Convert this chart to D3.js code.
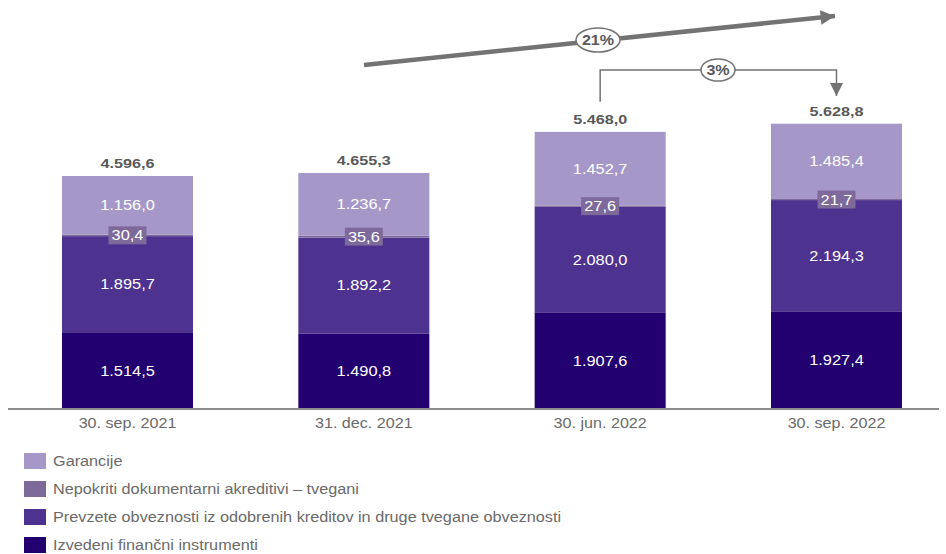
<!DOCTYPE html>
<html><head><meta charset="utf-8">
<script src="https://cdn.jsdelivr.net/npm/d3@7"></script>
<style>body{margin:0;background:#fff}svg{display:block;font-family:"Liberation Sans",Arial,sans-serif}</style>
</head><body><svg id="c" width="946" height="554"></svg>
<script>
const categories = ["30. sep. 2021","31. dec. 2021","30. jun. 2022","30. sep. 2022"];
const izvedeni = [1514.5,1490.8,1907.6,1927.4];
const prevzete = [1895.7,1892.2,2080.0,2194.3];
const nepokriti = [30.4,35.6,27.6,21.7];
const garancije = [1156.0,1236.7,1452.7,1485.4];
const totals = [4596.6,4655.3,5468.0,5628.8];
const seriesColors = ["#23006f","#4d3290","#7d6a9b","#a598c9"];
const legendOrder = [3,2,1,0];
const legendLabels = ["Izvedeni finančni instrumenti","Prevzete obveznosti iz odobrenih kreditov in druge tvegane obveznosti","Nepokriti dokumentarni akreditivi – tvegani","Garancije"];
const growthLabels = ["21%","3%"];

const SX = 1.17;
const fmt = v => {
  const s = v.toFixed(1).split(".");
  return s[0].replace(/\B(?=(\d{3})+(?!\d))/g, ".") + "," + s[1];
};

const svg = d3.select("#c");
const x = d3.scaleBand().domain(categories).range([10, 954]).paddingInner(0.4456).paddingOuter(0.22);
const y = d3.scaleLinear().domain([0, 4596.6]).range([409, 176]);

const rows = categories.map((c,i)=>({cat:c, v:[izvedeni[i],prevzete[i],nepokriti[i],garancije[i]]}));
const stack = d3.stack().keys([0,1,2,3]).value((d,k)=>d.v[k]);
const layers = stack(rows);

layers.forEach((layer,k)=>{
  svg.append("g").selectAll("rect").data(layer).join("rect")
    .attr("x", d=>x(d.data.cat))
    .attr("width", x.bandwidth())
    .attr("y", d=>y(d[1]))
    .attr("height", d=>y(d[0])-y(d[1]))
    .attr("fill", seriesColors[k]);
});

// segment labels
[0,1,3].forEach(k=>{
  svg.append("g").selectAll("text").data(layers[k]).join("text")
    .attr("transform", d=>`translate(${x(d.data.cat)+x.bandwidth()/2},${(y(d[0])+y(d[1]))/2+5}) scale(${SX},1)`)
    .attr("text-anchor","middle").attr("fill","#fff").attr("font-size",14)
    .text(d=>fmt(d.data.v[k]));
});
// nepokriti labels with box
const ng = svg.append("g").selectAll("g").data(layers[2]).join("g")
  .attr("transform", d=>`translate(${x(d.data.cat)+x.bandwidth()/2},${(y(d[0])+y(d[1]))/2})`);
ng.append("rect").attr("x",-19).attr("y",-9).attr("width",38).attr("height",18).attr("fill","#7d6a9b");
ng.append("text").attr("transform",`translate(0,5) scale(${SX},1)`).attr("text-anchor","middle").attr("fill","#fff").attr("font-size",14).text(d=>fmt(d.data.v[2]));

// totals
svg.append("g").selectAll("text").data(categories).join("text")
  .attr("transform", (c,i)=>`translate(${x(c)+x.bandwidth()/2},${y(totals[i])-8}) scale(1.2,1)`)
  .attr("text-anchor","middle").attr("fill","#595959").attr("font-size",13.5).attr("font-weight","bold")
  .text((c,i)=>fmt(totals[i]));

// axis
const axis = svg.append("g").attr("transform","translate(0,409)").call(d3.axisBottom(x).tickSize(0).tickPadding(9));
axis.select(".domain").attr("stroke","#8c8c8c").attr("stroke-width",2).attr("d","M8,0H939");
axis.selectAll("text").attr("fill","#6a6a6a").attr("font-size",13.8).attr("font-family","Liberation Sans, Arial, sans-serif")
  .attr("transform",`scale(${SX},1)`);

// legend
const lg = svg.append("g").selectAll("g").data(legendOrder).join("g")
  .attr("transform",(k,i)=>`translate(24,${453+i*28})`);
lg.append("rect").attr("width",22).attr("height",16).attr("fill",k=>seriesColors[k]);
lg.append("text").attr("transform",`translate(29,13) scale(1.16,1)`).attr("fill","#6a6a6a").attr("font-size",14)
  .text(k=>legendLabels[k]);

// arrows
const defs = svg.append("defs");
defs.append("marker").attr("id","ah").attr("viewBox","0 0 10 10").attr("refX",10).attr("refY",5)
  .attr("markerWidth",3.6).attr("markerHeight",3.2).attr("orient","auto").attr("markerUnits","strokeWidth")
  .append("path").attr("d","M0,0L10,5L0,10Z").attr("fill","#737373");
defs.append("marker").attr("id","ah2").attr("viewBox","0 0 10 10").attr("refX",10).attr("refY",5)
  .attr("markerWidth",9).attr("markerHeight",9).attr("orient","auto").attr("markerUnits","strokeWidth")
  .append("path").attr("d","M0,0L10,5L0,10Z").attr("fill","#737373");

const c3 = x(categories[2])+x.bandwidth()/2, c4 = x(categories[3])+x.bandwidth()/2;
svg.append("line").attr("x1",364).attr("y1",65).attr("x2",835).attr("y2",16)
  .attr("stroke","#737373").attr("stroke-width",4.5).attr("marker-end","url(#ah)");
svg.append("path").attr("d",`M${c3},${y(totals[2])-30}V70H${c4}V96`)
  .attr("fill","none").attr("stroke","#737373").attr("stroke-width",1.5).attr("marker-end","url(#ah2)");

function bubble(cx,cy,rx,ry,t){
  svg.append("ellipse").attr("cx",cx).attr("cy",cy).attr("rx",rx).attr("ry",ry)
    .attr("fill","#fff").attr("stroke","#737373").attr("stroke-width",1.5);
  svg.append("text").attr("transform",`translate(${cx},${cy+5}) scale(1.15,1)`).attr("text-anchor","middle").attr("fill","#595959")
    .attr("font-size",14).attr("font-weight","bold").text(t);
}
bubble(598,40,22,12,growthLabels[0]);
bubble(718,70,17,11,growthLabels[1]);
</script></body></html>
